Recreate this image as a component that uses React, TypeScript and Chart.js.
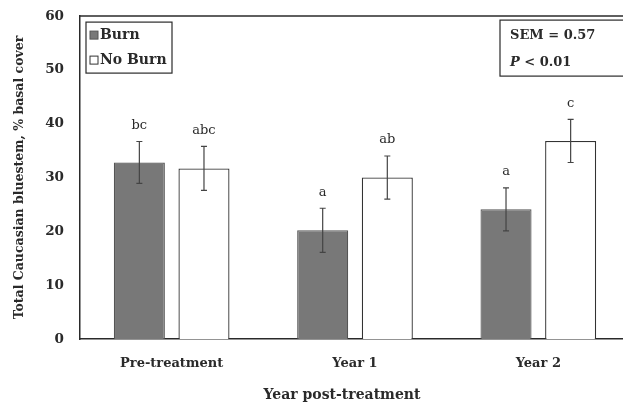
import React, { useEffect, useRef } from "react";
import { Chart, registerables } from "chart.js";

Chart.register(...registerables);

const categories = ["Pre-treatment", "Year 1", "Year 2"];
const burnValues = [32.8, 20.2, 24.1];
const noBurnValues = [31.7, 30.0, 36.8];
const burnErrors = [3.9, 4.1, 4.0];
const noBurnErrors = [4.1, 4.0, 4.0];
const burnLetters = ["bc", "a", "a"];
const noBurnLetters = ["abc", "ab", "c"];
const yTicks = [0, 10, 20, 30, 40, 50, 60];
const xTitle = "Year post-treatment";
const semText = "SEM = 0.57";
const pText = "P";
const pRest = " < 0.01";

const SERIF = "'DejaVu Serif', serif";
const INK = "#2a2a2a";
const GREY = "#787878";

const errors = [burnErrors, noBurnErrors];
const letters = [burnLetters, noBurnLetters];

const annotate = {
  id: "annotate",
  afterDatasetsDraw(chart: any) {
    const ctx = chart.ctx;
    const ys = chart.scales.y;
    const area = chart.chartArea;
    ctx.save();
    // top frame line
    ctx.strokeStyle = INK;
    ctx.lineWidth = 1.5;
    ctx.beginPath();
    ctx.moveTo(area.left, area.top);
    ctx.lineTo(area.right, area.top);
    ctx.stroke();

    chart.data.datasets.forEach((ds: any, di: number) => {
      const meta = chart.getDatasetMeta(di);
      meta.data.forEach((bar: any, i: number) => {
        const v = ds.data[i];
        const e = errors[di][i];
        const yt = ys.getPixelForValue(v + e);
        const yb = ys.getPixelForValue(v - e);
        const x = bar.x;
        ctx.strokeStyle = "#444";
        ctx.lineWidth = 1.2;
        ctx.beginPath();
        ctx.moveTo(x, yt);
        ctx.lineTo(x, yb);
        ctx.moveTo(x - 3, yt);
        ctx.lineTo(x + 3, yt);
        ctx.moveTo(x - 3, yb);
        ctx.lineTo(x + 3, yb);
        ctx.stroke();
        ctx.fillStyle = INK;
        ctx.font = `13px ${SERIF}`;
        ctx.textAlign = "center";
        ctx.textBaseline = "middle";
        ctx.fillText(letters[di][i], x, yt - 16);
      });
    });

    // legend box
    const lx = area.left + 6;
    const ly = area.top + 6;
    ctx.strokeStyle = INK;
    ctx.lineWidth = 1.2;
    ctx.strokeRect(lx, ly, 86, 51);
    ctx.font = `bold 14px ${SERIF}`;
    ctx.textAlign = "left";
    ctx.textBaseline = "middle";
    chart.data.datasets.forEach((ds: any, di: number) => {
      const cy = ly + 13 + di * 25;
      ctx.fillStyle = ds.backgroundColor;
      ctx.fillRect(lx + 4, cy - 4, 8, 8);
      ctx.strokeStyle = ds.borderColor;
      ctx.lineWidth = 1;
      ctx.strokeRect(lx + 4, cy - 4, 8, 8);
      ctx.fillStyle = INK;
      ctx.fillText(ds.label, lx + 14, cy);
    });

    // SEM box
    const sx = 500;
    const sy = area.top + 4;
    ctx.strokeStyle = INK;
    ctx.lineWidth = 1.2;
    ctx.strokeRect(sx, sy, area.right - 6 - sx, 56);
    ctx.fillStyle = INK;
    ctx.font = `bold 13px ${SERIF}`;
    ctx.fillText(semText, sx + 10, sy + 16);
    ctx.font = `italic bold 13px ${SERIF}`;
    ctx.fillText(pText, sx + 10, sy + 43);
    const pw = ctx.measureText(pText).width;
    ctx.font = `bold 13px ${SERIF}`;
    ctx.fillText(pRest, sx + 10 + pw, sy + 43);

    // x axis title
    ctx.font = `bold 14px ${SERIF}`;
    ctx.textAlign = "center";
    ctx.fillText(xTitle, 342, 395);
    ctx.restore();
  },
};

export default function App() {
  const ref = useRef<HTMLCanvasElement | null>(null);
  useEffect(() => {
    if (!ref.current) return;
    const chart = new Chart(ref.current, {
      type: "bar",
      data: {
        labels: categories,
        datasets: [
          {
            label: "Burn",
            data: burnValues,
            backgroundColor: GREY,
            borderColor: "#555",
            borderWidth: 1.2,
            categoryPercentage: 0.705,
            barPercentage: 0.79,
          },
          {
            label: "No Burn",
            data: noBurnValues,
            backgroundColor: "#ffffff",
            borderColor: "#333",
            borderWidth: 1.3,
            categoryPercentage: 0.705,
            barPercentage: 0.79,
          },
        ],
      },
      options: {
        responsive: false,
        animation: false,
        devicePixelRatio: 1,
        layout: { padding: { top: 5, left: 0, right: 0, bottom: 0 } },
        plugins: {
          legend: { display: false },
          tooltip: { enabled: false },
        },
        scales: {
          x: {
            grid: { display: false },
            border: { display: true, color: INK, width: 1.5 },
            ticks: {
              color: INK,
              padding: 9,
              font: { family: SERIF, size: 13, weight: "bold" },
            },
            afterFit: (s: any) => {
              s.height = 67;
            },
          },
          y: {
            min: 0,
            max: 60,
            grid: { display: false },
            border: { display: true, color: INK, width: 1.5 },
            afterBuildTicks: (s: any) => {
              s.ticks = yTicks.map((v) => ({ value: v }));
            },
            ticks: {
              color: INK,
              padding: 8,
              font: { family: SERIF, size: 13.5, weight: "bold" },
            },
            title: {
              display: true,
              text: "Total Caucasian bluestem, % basal cover",
              color: INK,
              padding: { top: 12, bottom: 0 },
              font: { family: SERIF, size: 12.5, weight: "bold" },
            },
            afterFit: (s: any) => {
              s.width = 80;
            },
          },
        },
      },
      plugins: [annotate],
    } as any);
    return () => chart.destroy();
  }, []);
  return (
    <div
      style={{
        position: "fixed",
        left: 0,
        top: 0,
        width: 623,
        height: 406,
        overflow: "hidden",
        background: "#fff",
      }}
    >
      <canvas ref={ref} width={630} height={406} style={{ display: "block" }} />
    </div>
  );
}
